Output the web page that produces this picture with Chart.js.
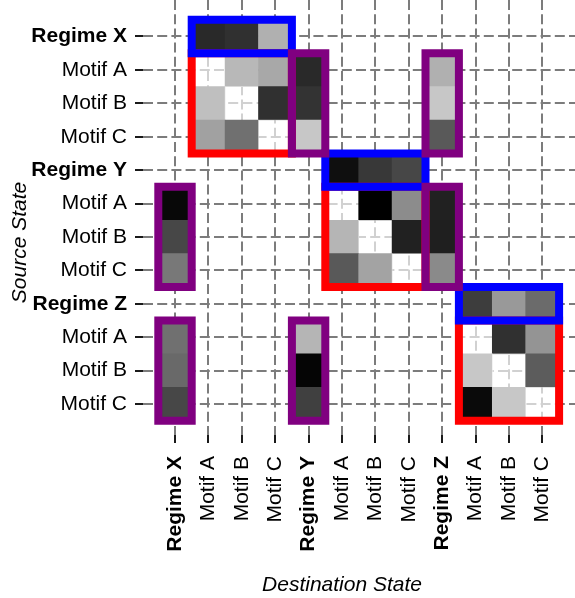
<!DOCTYPE html>
<html>
<head>
<meta charset="utf-8">
<script src="https://cdn.jsdelivr.net/npm/chart.js@4.4.1/dist/chart.umd.min.js"></script>
<style>
  html, body { margin: 0; padding: 0; background: #fff; }
</style>
</head>
<body>
<canvas id="chart" width="575" height="598"></canvas>
<script>
// states in matrix order (rows = source, columns = destination)
const states = ['Regime X', 'Motif A', 'Motif B', 'Motif C',
                'Regime Y', 'Motif A', 'Motif B', 'Motif C',
                'Regime Z', 'Motif A', 'Motif B', 'Motif C'];

// position of each regime in the list, its three motifs follow it
const regimes = [0, 4, 8];

// transition weights (0 = white, 1 = black), null = no cell
const _ = null;
const fromBlockX = [
    [_, .84, .81, .31, _, _, _, _, _, _, _, _],
    [_, 0, .28, .34, .84, _, _, _, .31, _, _, _],
    [_, .25, 0, .81, .80, _, _, _, .22, _, _, _],
    [_, .37, .56, 0, .22, _, _, _, .65, _, _, _]
];
const fromBlockY = [
    [_, _, _, _, _, .94, .78, .72, _, _, _, _],
    [.97, _, _, _, _, 0, 1.0, .45, .87, _, _, _],
    [.72, _, _, _, _, .29, 0, .87, .88, _, _, _],
    [.53, _, _, _, _, .65, .36, 0, .46, _, _, _]
];
const fromBlockZ = [
    [_, _, _, _, _, _, _, _, _, .76, .40, .58],
    [.56, _, _, _, .29, _, _, _, _, 0, .81, .42],
    [.59, _, _, _, .98, _, _, _, _, .22, 0, .64],
    [.72, _, _, _, .75, _, _, _, _, .96, .22, 0]
];

const FONT = '"Liberation Sans", Arial, Helvetica, sans-serif';
const COLORS = { within: '#ff0000', regime: '#0000ff', across: '#800080', grid: '#7c7c7c' };

// =============================================================================
// Build datasets
// =============================================================================

const weights = fromBlockX.concat(fromBlockY, fromBlockZ);
const cells = [];
weights.forEach((row, r) => {
    row.forEach((v, c) => {
        if (v !== null) cells.push({ x: c, y: [r - 0.5, r + 0.5], v: v });
    });
});

function cellColor(v) {
    if (v === 0) return 'rgba(255,255,255,0.65)';
    const g = Math.round(255 * (1 - v));
    return `rgb(${g},${g},${g})`;
}

// closed outline around columns c0..c1 and rows r0..r1
function outline(c0, c1, r0, r1) {
    return [
        { x: c0 - 0.5, y: r0 - 0.5 },
        { x: c1 + 0.5, y: r0 - 0.5 },
        { x: c1 + 0.5, y: r1 + 0.5 },
        { x: c0 - 0.5, y: r1 + 0.5 },
        { x: c0 - 0.5, y: r0 - 0.5 }
    ];
}

function outlineDataset(points, color, order) {
    return {
        type: 'line',
        data: points,
        borderColor: color,
        borderWidth: 8,
        borderJoinStyle: 'miter',
        borderCapStyle: 'square',
        pointRadius: 0,
        fill: false,
        clip: false,
        order: order
    };
}

const datasets = [{
    type: 'bar',
    data: cells,
    backgroundColor: ctx => cellColor(ctx.raw.v),
    borderWidth: 0,
    borderSkipped: false,
    barPercentage: 1,
    categoryPercentage: 1,
    order: 10
}];

regimes.forEach(r => {
    datasets.push(outlineDataset(outline(r + 1, r + 3, r + 1, r + 3), COLORS.within, 3));
    datasets.push(outlineDataset(outline(r + 1, r + 3, r, r), COLORS.regime, 2));
    regimes.filter(q => q !== r).forEach(q => {
        datasets.push(outlineDataset(outline(q, q, r + 1, r + 3), COLORS.across, 1));
    });
});

// =============================================================================
// Chart
// =============================================================================

const tickFont = ctx => ({
    family: FONT,
    size: 21,
    weight: regimes.includes(ctx.index) ? 'bold' : 'normal'
});

const stateTicks = scale => { scale.ticks = states.map((s, i) => ({ value: i })); };

// fixed axis boxes, without the label overhang padding Chart.js adds
function fitBox(size) {
    return scale => {
        if (scale.isHorizontal()) scale.height = size;
        else scale.width = size;
        scale.paddingTop = 0;
        scale.paddingBottom = 0;
        scale.paddingLeft = 0;
        scale.paddingRight = 0;
    };
}

const axisTitles = {
    id: 'axisTitles',
    afterDraw(chart) {
        const ctx = chart.ctx;
        ctx.save();
        ctx.fillStyle = '#000';
        ctx.font = `italic 21px ${FONT}`;
        ctx.textAlign = 'center';
        ctx.textBaseline = 'alphabetic';
        ctx.fillText('Destination State', 342, 591);
        ctx.translate(26, 242.5);
        ctx.rotate(-Math.PI / 2);
        ctx.fillText('Source State', 0, 0);
        ctx.restore();
    }
};

new Chart(document.getElementById('chart'), {
    type: 'bar',
    data: { datasets: datasets },
    plugins: [axisTitles],
    options: {
        responsive: false,
        animation: false,
        events: [],
        devicePixelRatio: 1,
        layout: { padding: 0 },
        plugins: {
            legend: { display: false },
            tooltip: { enabled: false }
        },
        scales: {
            x: {
                type: 'linear',
                position: 'bottom',
                offset: false,
                min: -0.958,
                max: 11.976,
                afterBuildTicks: stateTicks,
                afterFit: fitBox(163),
                grid: {
                    offset: false,
                    color: COLORS.grid,
                    lineWidth: 2,
                    tickColor: '#1a1a1a',
                    tickWidth: 2,
                    tickLength: 8
                },
                border: { display: false, dash: [10, 4.2] },
                ticks: {
                    callback: v => states[v],
                    autoSkip: false,
                    minRotation: 90,
                    maxRotation: 90,
                    padding: 13,
                    color: '#000',
                    font: tickFont
                }
            },
            y: {
                type: 'linear',
                reverse: true,
                min: -1.092,
                max: 11.928,
                afterBuildTicks: stateTicks,
                afterFit: fitBox(143),
                grid: {
                    color: COLORS.grid,
                    lineWidth: 2,
                    tickColor: '#1a1a1a',
                    tickWidth: 2,
                    tickLength: 8
                },
                border: { display: false, dash: [10, 4.2] },
                ticks: {
                    callback: v => states[v],
                    autoSkip: false,
                    padding: 8,
                    color: '#000',
                    font: tickFont
                }
            }
        }
    }
});
</script>
</body>
</html>
